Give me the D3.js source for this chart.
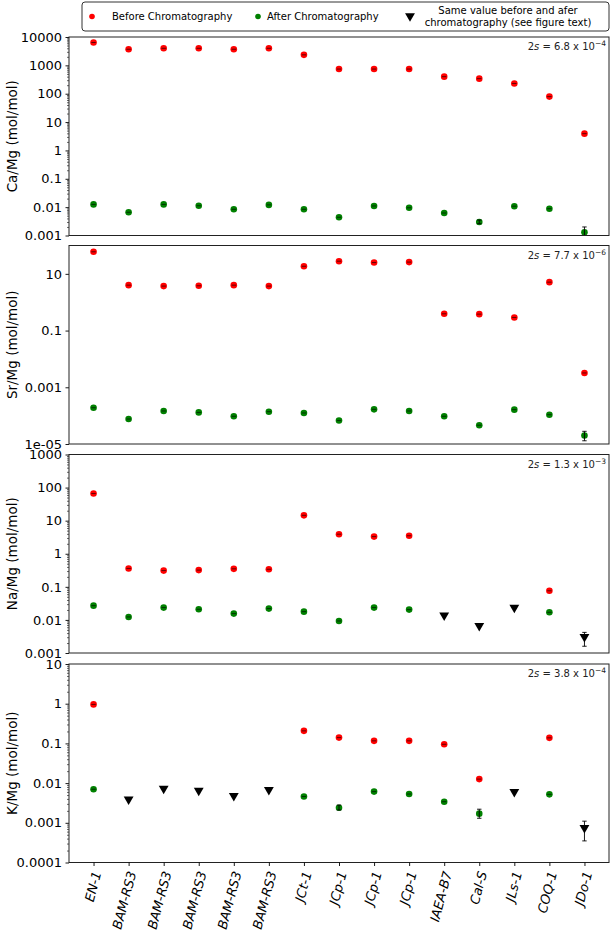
<!DOCTYPE html>
<html>
<head>
<meta charset="utf-8">
<script src="https://cdn.jsdelivr.net/npm/d3@7"></script>
<style>
  body { margin: 0; background: #fff; }
  svg { display: block; font-family: "DejaVu Sans", sans-serif; }
</style>
</head>
<body>
<svg id="chart" width="612" height="930"></svg>
<script>
// Element/Mg ratios before and after chromatography, four stacked log panels

const samples = ["EN-1", "BAM-RS3", "BAM-RS3", "BAM-RS3", "BAM-RS3", "BAM-RS3", "JCt-1",
  "JCp-1", "JCp-1", "JCp-1", "IAEA-B7", "Cal-S", "JLs-1", "COQ-1", "JDo-1"];

// Ca/Mg
const caBefore = [6400, 3700, 4000, 4000, 3700, 4000, 2350, 740, 740, 740, 400, 340, 230, 79, 3.9];
const caAfter = [0.0125, 0.0066, 0.0125, 0.0112, 0.0084, 0.012, 0.0084, 0.0044, 0.011, 0.0095, 0.0062, 0.0030, 0.0108, 0.0088, 0.0013];
const caSame = [null, null, null, null, null, null, null, null, null, null, null, null, null, null, null];
const caAfterErr = [null, null, null, null, null, null, null, null, null, null, null, [0.0026, 0.0035], null, null, [0.001, 0.002]];

// Sr/Mg
const srBefore = [60, 4.0, 3.7, 3.8, 4.0, 3.7, 18.5, 28, 25, 26, 0.39, 0.38, 0.29, 5.1, 0.0032];
const srAfter = [1.9e-4, 7.6e-5, 1.46e-4, 1.3e-4, 9.5e-5, 1.38e-4, 1.24e-4, 6.7e-5, 1.67e-4, 1.46e-4, 9.5e-5, 4.6e-5, 1.63e-4, 1.08e-4, 2.0e-5];
const srSame = [null, null, null, null, null, null, null, null, null, null, null, null, null, null, null];
const srAfterErr = [null, null, null, null, null, null, null, null, null, null, null, null, null, null, [1.3e-5, 2.8e-5]];

// Na/Mg
const naBefore = [66, 0.36, 0.31, 0.32, 0.35, 0.34, 14.5, 3.9, 3.3, 3.5, null, null, null, 0.076, null];
const naAfter = [0.027, 0.0123, 0.0236, 0.021, 0.0155, 0.022, 0.0178, 0.0093, 0.0236, 0.0205, null, null, null, 0.017, null];
const naSame = [null, null, null, null, null, null, null, null, null, null, 0.0138, 0.0066, 0.0236, null, 0.0031];
const naSameErr = [null, null, null, null, null, null, null, null, null, null, null, null, null, null, [0.0016, 0.0042]];

// K/Mg
const kBefore = [0.96, null, null, null, null, null, 0.207, 0.14, 0.116, 0.116, 0.095, 0.0126, null, 0.138, null];
const kAfter = [0.0070, null, null, null, null, null, 0.0046, 0.0024, 0.0061, 0.0053, 0.0034, 0.0017, null, 0.0052, null];
const kSame = [null, 0.0039, 0.0073, 0.0065, 0.0048, 0.0068, null, null, null, null, null, null, 0.006, null, 0.00075];
const kAfterErr = [null, null, null, null, null, null, null, [0.0021, 0.0028], null, null, null, [0.0013, 0.0022], null, null, null];
const kSameErr = [null, null, null, null, null, null, null, null, null, null, null, null, null, null, [0.00035, 0.0011]];

// y tick values / labels
const caTicks = [10000, 1000, 100, 10, 1, 0.1, 0.01, 0.001];
const caTickLabels = ["10000", "1000", "100", "10", "1", "0.1", "0.01", "0.001"];
const srTicks = [10, 0.1, 0.001, 1e-5];
const srTickLabels = ["10", "0.1", "0.001", "1e-05"];
const naTicks = [1000, 100, 10, 1, 0.1, 0.01, 0.001];
const naTickLabels = ["1000", "100", "10", "1", "0.1", "0.01", "0.001"];
const kTicks = [10, 1, 0.1, 0.01, 0.001, 0.0001];
const kTickLabels = ["10", "1", "0.1", "0.01", "0.001", "0.0001"];

const legendLabels = ["Before Chromatography", "After Chromatography",
  "Same value before and afer", "chromatography (see figure text)"];

const panels = [
  { ylabel: "Ca/Mg (mol/mol)", domain: [0.001, 10000], ticks: caTicks, tickLabels: caTickLabels, minor: true,
    before: caBefore, after: caAfter, same: caSame, afterErr: caAfterErr, sameErr: null, sd: "6.8", exp: "−4" },
  { ylabel: "Sr/Mg (mol/mol)", domain: [1e-5, 100], ticks: srTicks, tickLabels: srTickLabels, minor: false,
    before: srBefore, after: srAfter, same: srSame, afterErr: srAfterErr, sameErr: null, sd: "7.7", exp: "−6" },
  { ylabel: "Na/Mg (mol/mol)", domain: [0.001, 1000], ticks: naTicks, tickLabels: naTickLabels, minor: true,
    before: naBefore, after: naAfter, same: naSame, afterErr: null, sameErr: naSameErr, sd: "1.3", exp: "−3" },
  { ylabel: "K/Mg (mol/mol)", domain: [0.0001, 10], ticks: kTicks, tickLabels: kTickLabels, minor: true,
    before: kBefore, after: kAfter, same: kSame, afterErr: kAfterErr, sameErr: kSameErr, sd: "3.8", exp: "−4" }
];

const RED = "#ff0000", GREEN = "#008000", BLACK = "#000";
const left = 69, right = 609;
const tops = [37, 245.5, 454.5, 664];
const ph = 198.5;

const svg = d3.select("#chart");
svg.append("rect").attr("width", 612).attr("height", 930).attr("fill", "#fff");

const x = d3.scalePoint()
  .domain(d3.range(samples.length))
  .range([left, right])
  .padding(0.7);

const tri = d3.symbol().type(d3.symbolTriangle).size(42);

function minorTicks(domain){
  const out = [];
  const lo = Math.round(Math.log10(domain[0])), hi = Math.round(Math.log10(domain[1]));
  for(let e = lo; e < hi; e++){
    for(let m = 2; m <= 9; m++) out.push(m * Math.pow(10, e));
  }
  return out;
}

panels.forEach((p, i) => {
  const top = tops[i];
  const y = d3.scaleLog().domain(p.domain).range([top + ph, top]);
  const g = svg.append("g");

  // minor ticks
  if(p.minor){
    const mg = g.append("g")
      .attr("transform", `translate(${left},0)`)
      .call(d3.axisLeft(y).tickValues(minorTicks(p.domain)).tickSize(2).tickFormat(""));
    mg.select(".domain").remove();
    mg.selectAll("line").attr("stroke", "#000").attr("stroke-width", 0.6);
  }

  const ag = g.append("g")
    .attr("transform", `translate(${left},0)`)
    .call(d3.axisLeft(y).tickValues(p.ticks).tickSize(3.5).tickPadding(3.5)
      .tickFormat((d, j) => p.tickLabels[j]));
  ag.select(".domain").remove();
  ag.selectAll("line").attr("stroke", "#000").attr("stroke-width", 0.9);
  ag.selectAll("text")
    .attr("fill", "#000")
    .style("font-family", "DejaVu Sans, sans-serif")
    .style("font-size", "13px");

  g.append("text")
    .attr("transform", `translate(17,${top + ph / 2}) rotate(-90)`)
    .attr("text-anchor", "middle")
    .style("font-size", "13.5px")
    .text(p.ylabel);

  // 2s annotation
  const note = g.append("text")
    .attr("x", right - 3)
    .attr("y", top + 13)
    .attr("text-anchor", "end")
    .style("font-size", "10px")
    .attr("fill", "#222");
  note.append("tspan").text("2");
  note.append("tspan").style("font-style", "italic").text("s");
  note.append("tspan").text(` = ${p.sd} x 10`);
  note.append("tspan").attr("dy", -4).style("font-size", "7.5px").text(p.exp);

  // error bars + markers
  function drawSeries(values, errs, kind){
    const pts = values.map((v, j) => ({ v, j, e: errs ? errs[j] : null })).filter(d => d.v != null);
    const sg = g.append("g");
    pts.forEach(d => {
      const cx = x(d.j);
      if(kind === "tri"){
        sg.append("path")
          .attr("d", tri)
          .attr("transform", `translate(${cx},${y(d.v)}) rotate(180)`)
          .attr("fill", BLACK);
      } else {
        sg.append("circle")
          .attr("cx", cx).attr("cy", y(d.v)).attr("r", 3.3)
          .attr("fill", kind);
      }
      const eg = sg.append("g").attr("stroke", "#000").attr("stroke-width", 0.9);
      if(d.e){
        eg.append("line").attr("x1", cx).attr("x2", cx).attr("y1", y(d.e[0])).attr("y2", y(d.e[1]));
        d.e.forEach(ev => eg.append("line")
          .attr("x1", cx - 2.2).attr("x2", cx + 2.2).attr("y1", y(ev)).attr("y2", y(ev)));
      } else {
        eg.append("line")
          .attr("x1", cx - 2.2).attr("x2", cx + 2.2).attr("y1", y(d.v)).attr("y2", y(d.v))
          .attr("stroke-opacity", 0.7);
      }
    });
  }
  drawSeries(p.before, null, RED);
  drawSeries(p.after, p.afterErr, GREEN);
  drawSeries(p.same, p.sameErr, "tri");

  // frame
  g.append("rect")
    .attr("x", left).attr("y", top).attr("width", right - left).attr("height", ph)
    .attr("fill", "none").attr("stroke", "#222").attr("stroke-width", 1);

  // x axis only on the last panel
  if(i === panels.length - 1){
    const xg = g.append("g")
      .attr("transform", `translate(0,${top + ph})`)
      .call(d3.axisBottom(x).tickSize(3.5).tickPadding(0).tickFormat(j => samples[j]));
    xg.select(".domain").remove();
    xg.selectAll("line").attr("stroke", "#000").attr("stroke-width", 0.9);
    xg.selectAll("text")
      .attr("y", 0).attr("dy", 0)
      .attr("transform", "translate(3,9) rotate(-75)")
      .attr("text-anchor", "end")
      .attr("dominant-baseline", "central")
      .attr("fill", "#000")
      .style("font-family", "DejaVu Sans, sans-serif")
      .style("font-style", "italic")
      .style("font-size", "13px");
  }
});

// legend
const lg = svg.append("g");
lg.append("rect")
  .attr("x", 82).attr("y", 2).attr("width", 527).attr("height", 29).attr("rx", 3)
  .attr("fill", "#fff").attr("stroke", "#333").attr("stroke-width", 1);
lg.append("circle").attr("cx", 92).attr("cy", 16.5).attr("r", 2.8).attr("fill", RED);
lg.append("text").attr("x", 112).attr("y", 16.5).attr("dominant-baseline", "central")
  .style("font-size", "10px").text(legendLabels[0]);
lg.append("circle").attr("cx", 258).attr("cy", 16.5).attr("r", 2.8).attr("fill", GREEN);
lg.append("text").attr("x", 267).attr("y", 16.5).attr("dominant-baseline", "central")
  .style("font-size", "10px").text(legendLabels[1]);
lg.append("path").attr("d", tri).attr("transform", "translate(410,16) rotate(180)").attr("fill", BLACK);
lg.append("text").attr("x", 508).attr("y", 10.5).attr("text-anchor", "middle").attr("dominant-baseline", "central")
  .style("font-size", "10px").text(legendLabels[2]);
lg.append("text").attr("x", 508).attr("y", 22.5).attr("text-anchor", "middle").attr("dominant-baseline", "central")
  .style("font-size", "10px").text(legendLabels[3]);
</script>
</body>
</html>
